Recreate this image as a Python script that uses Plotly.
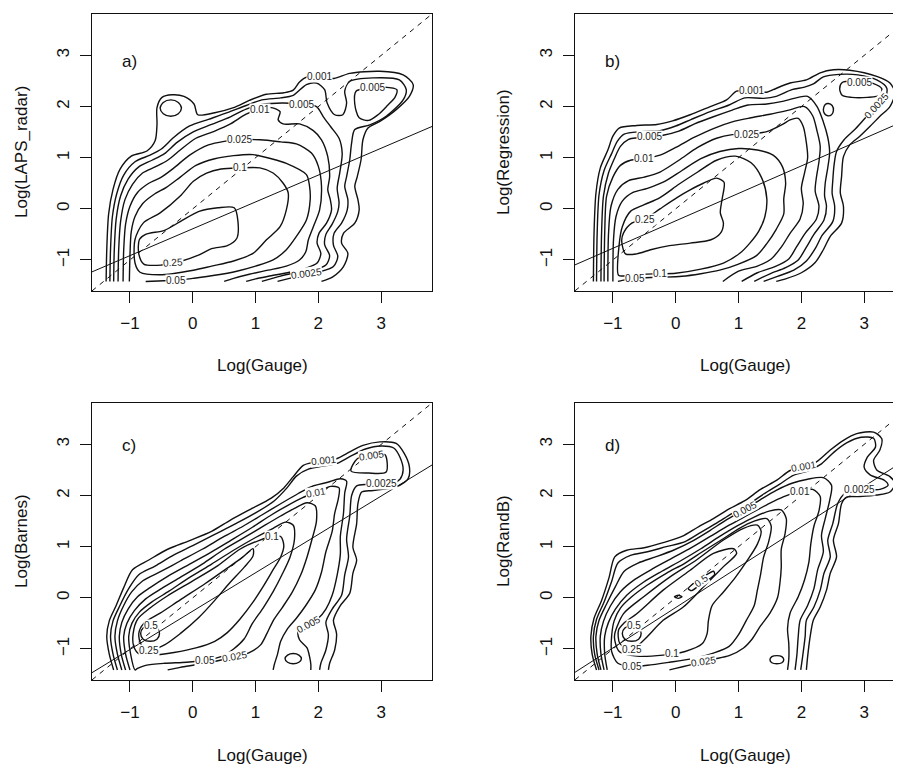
import plotly.graph_objects as go

# ---------------- data ----------------
tick_values = [-1, 0, 1, 2, 3]
x_title = "Log(Gauge)"
y_titles = ["Log(LAPS_radar)", "Log(Regression)", "Log(Barnes)", "Log(RandB)"]
panel_tags = ["a)", "b)", "c)", "d)"]

# regression lines: (intercept, slope)
fit_a = (-0.39, 0.525)
fit_b = (-0.235, 0.537)
fit_c = (-0.26, 0.75)
fit_d = (-0.19, 0.79)

# contour paths (level, [[x, y], ...]) in log units
a_contours = [
    ("0.001", [[-1.38,-1.42],[-1.37,-0.80],[-1.34,-0.10],[-1.27,0.38],[-1.16,0.77],[-0.98,1.03],[-0.73,1.13],[-0.60,1.33],[-0.57,1.65],[-0.57,1.98],[-0.49,2.18],[-0.33,2.23],[-0.14,2.20],[0.02,2.05],[0.08,1.84],[0.35,1.88],[0.65,1.98],[0.90,2.12],[1.17,2.24],[1.45,2.27],[1.60,2.32],[1.70,2.48],[1.82,2.58],[2.02,2.58],[2.25,2.55],[2.50,2.65],[2.98,2.69],[3.35,2.62],[3.51,2.43],[3.45,2.20],[3.24,1.94],[2.98,1.71],[2.79,1.58],[2.71,1.35],[2.68,0.96],[2.62,0.63],[2.58,0.44],[2.63,0.18],[2.65,-0.02],[2.58,-0.28],[2.40,-0.48],[2.37,-0.67],[2.47,-0.87],[2.40,-1.13],[2.23,-1.33],[2.05,-1.42]]),
    ("0.0025", [[-1.32,-1.42],[-1.31,-0.80],[-1.28,-0.15],[-1.21,0.30],[-1.10,0.66],[-0.92,0.92],[-0.68,1.05],[-0.50,1.17],[-0.30,1.40],[-0.05,1.62],[0.25,1.75],[0.55,1.88],[0.85,2.02],[1.10,2.13],[1.40,2.17],[1.60,2.22],[1.81,2.43],[1.97,2.46],[2.10,2.33],[2.14,2.07],[2.26,1.84],[2.39,1.84],[2.45,2.07],[2.42,2.30],[2.50,2.49],[2.87,2.56],[3.29,2.52],[3.40,2.33],[3.35,2.13],[3.08,1.81],[2.82,1.64],[2.58,1.55],[2.53,1.29],[2.50,0.96],[2.45,0.63],[2.42,0.44],[2.47,0.18],[2.46,-0.02],[2.37,-0.28],[2.25,-0.48],[2.24,-0.71],[2.31,-0.93],[2.24,-1.13],[2.02,-1.23],[1.81,-1.27],[1.54,-1.36],[1.35,-1.42]]),
    ("0.0025", [[-0.52,1.97],[-0.47,2.08],[-0.35,2.13],[-0.23,2.08],[-0.18,1.97],[-0.23,1.86],[-0.35,1.81],[-0.47,1.86],[-0.52,1.97]]),
    ("0.005", [[-1.26,-1.42],[-1.25,-0.80],[-1.22,-0.20],[-1.15,0.25],[-1.03,0.58],[-0.86,0.82],[-0.65,0.95],[-0.45,1.08],[-0.25,1.30],[0.00,1.50],[0.30,1.65],[0.60,1.80],[0.85,1.95],[1.10,2.04],[1.44,2.07],[1.73,2.04],[1.97,2.00],[2.08,1.80],[2.20,1.60],[2.33,1.38],[2.38,1.08],[2.34,0.70],[2.30,0.40],[2.33,0.12],[2.31,-0.05],[2.22,-0.30],[2.12,-0.50],[2.10,-0.70],[2.18,-0.92],[2.12,-1.10],[1.92,-1.20],[1.60,-1.26],[1.35,-1.33],[1.10,-1.42]]),
    ("0.005", [[2.60,2.30],[2.80,2.36],[3.05,2.38],[3.25,2.33],[3.22,2.18],[3.10,2.02],[2.95,1.84],[2.80,1.73],[2.65,1.78],[2.58,2.05],[2.60,2.30]]),
    ("0.01", [[-1.19,-1.42],[-1.18,-0.80],[-1.15,-0.25],[-1.08,0.18],[-0.96,0.48],[-0.80,0.70],[-0.60,0.82],[-0.40,0.95],[-0.20,1.15],[0.05,1.38],[0.35,1.52],[0.60,1.66],[0.85,1.85],[1.07,1.95],[1.25,1.98],[1.39,1.90],[1.36,1.74],[1.44,1.66],[1.70,1.66],[1.92,1.53],[2.05,1.35],[2.15,1.02],[2.18,0.63],[2.15,0.37],[2.19,0.18],[2.21,-0.02],[2.13,-0.28],[2.01,-0.48],[1.98,-0.67],[2.04,-0.87],[1.98,-1.06],[1.81,-1.16],[1.54,-1.24],[1.25,-1.31],[1.00,-1.37],[0.85,-1.42]]),
    ("0.025", [[-1.11,-1.42],[-1.10,-0.80],[-1.07,-0.30],[-1.00,0.05],[-0.88,0.32],[-0.70,0.50],[-0.50,0.62],[-0.30,0.80],[-0.05,1.05],[0.25,1.25],[0.50,1.32],[0.75,1.35],[1.07,1.35],[1.40,1.31],[1.65,1.27],[1.89,1.09],[2.00,0.83],[2.05,0.44],[2.02,-0.02],[1.92,-0.35],[1.84,-0.61],[1.80,-0.84],[1.70,-1.00],[1.49,-1.12],[1.20,-1.20],[0.90,-1.28],[0.65,-1.36],[0.50,-1.42]]),
    ("0.05", [[-1.01,-1.42],[-1.00,-0.90],[-0.98,-0.45],[-0.92,-0.15],[-0.80,0.10],[-0.62,0.28],[-0.42,0.42],[-0.20,0.62],[0.05,0.85],[0.35,0.98],[0.65,1.04],[0.96,1.06],[1.25,0.98],[1.49,0.89],[1.81,0.67],[1.86,0.44],[1.87,0.18],[1.81,-0.22],[1.65,-0.54],[1.49,-0.80],[1.28,-1.00],[1.00,-1.12],[0.70,-1.22],[0.35,-1.30],[0.00,-1.36],[-0.26,-1.40],[-0.55,-1.41],[-0.75,-1.42]]),
    ("0.1", [[-0.92,-0.60],[-0.79,-0.28],[-0.52,-0.08],[-0.20,0.25],[0.01,0.54],[0.22,0.70],[0.45,0.78],[0.75,0.80],[1.07,0.80],[1.28,0.70],[1.44,0.50],[1.52,0.31],[1.49,-0.02],[1.39,-0.35],[1.17,-0.61],[0.96,-0.87],[0.65,-1.02],[0.30,-1.12],[0.01,-1.20],[-0.52,-1.29],[-0.84,-1.24],[-0.92,-1.06],[-0.92,-0.60]]),
    ("0.25", [[-0.85,-0.60],[-0.75,-0.50],[-0.45,-0.42],[-0.20,-0.25],[0.10,-0.05],[0.40,0.02],[0.66,0.02],[0.72,-0.25],[0.70,-0.58],[0.55,-0.72],[0.30,-0.78],[0.10,-0.90],[-0.20,-1.03],[-0.50,-1.10],[-0.78,-1.08],[-0.86,-0.88],[-0.85,-0.60]]),
]
a_labels = [("0.001", 2.02, 2.58, 0), ("0.005", 1.73, 2.04, 0), ("0.005", 2.86, 2.37, 0),
            ("0.01", 1.07, 1.95, 0), ("0.025", 0.75, 1.35, 0), ("0.1", 0.75, 0.80, 0),
            ("0.25", -0.32, -1.05, -4), ("0.05", -0.26, -1.40, 0), ("0.0025", 1.81, -1.27, -8)]

b_contours = [
    ("0.001", [[-1.31,-1.42],[-1.30,-0.47],[-1.27,0.30],[-1.20,0.80],[-1.08,1.15],[-1.00,1.42],[-0.90,1.58],[-0.62,1.63],[-0.30,1.65],[-0.05,1.72],[0.23,1.84],[0.55,2.00],[0.81,2.13],[0.97,2.30],[1.21,2.31],[1.45,2.28],[1.55,2.33],[1.82,2.46],[2.08,2.52],[2.30,2.66],[2.51,2.72],[2.77,2.71],[3.20,2.59],[3.41,2.46],[3.49,2.27],[3.41,2.00],[3.25,1.81],[3.09,1.61],[2.93,1.42],[2.77,1.25],[2.67,1.02],[2.64,0.63],[2.62,0.31],[2.67,0.05],[2.64,-0.28],[2.46,-0.54],[2.35,-0.80],[2.22,-1.05],[2.00,-1.25],[1.75,-1.37],[1.60,-1.42]]),
    ("0.0025", [[-1.26,-1.42],[-1.25,-0.47],[-1.22,0.28],[-1.14,0.75],[-1.02,1.08],[-0.93,1.32],[-0.82,1.46],[-0.55,1.51],[-0.25,1.53],[0.00,1.62],[0.25,1.75],[0.55,1.90],[0.85,2.03],[1.10,2.17],[1.40,2.16],[1.60,2.20],[1.85,2.33],[2.05,2.38],[2.20,2.45],[2.35,2.58],[2.60,2.63],[2.90,2.62],[3.20,2.52],[3.36,2.36],[3.33,2.15],[3.18,1.98],[3.02,1.78],[2.85,1.55],[2.68,1.35],[2.56,1.12],[2.52,0.85],[2.50,0.55],[2.49,0.30],[2.53,0.05],[2.50,-0.25],[2.33,-0.52],[2.22,-0.78],[2.08,-1.02],[1.88,-1.20],[1.62,-1.32],[1.40,-1.42]]),
    ("0.005", [[-1.19,-1.42],[-1.18,-0.47],[-1.15,0.25],[-1.07,0.70],[-0.97,1.00],[-0.88,1.22],[-0.75,1.36],[-0.60,1.39],[-0.41,1.41],[-0.20,1.44],[0.05,1.52],[0.30,1.66],[0.60,1.80],[0.90,1.93],[1.15,2.03],[1.45,2.05],[1.70,2.10],[1.95,2.18],[2.10,2.20],[2.25,2.00],[2.35,1.70],[2.42,1.40],[2.45,1.10],[2.42,0.80],[2.38,0.50],[2.37,0.25],[2.40,0.05],[2.36,-0.22],[2.20,-0.50],[2.08,-0.75],[1.95,-1.00],[1.75,-1.15],[1.50,-1.27],[1.25,-1.42]]),
    ("0.005", [[2.61,2.35],[2.65,2.47],[2.93,2.49],[3.15,2.45],[3.28,2.35],[3.25,2.22],[3.05,2.18],[2.80,2.18],[2.65,2.22],[2.61,2.35]]),
    ("0.01", [[2.35,1.94],[2.38,2.04],[2.43,2.06],[2.49,2.02],[2.51,1.92],[2.48,1.84],[2.42,1.82],[2.37,1.86],[2.35,1.94]]),
    ("0.01", [[-1.14,-1.42],[-1.13,-0.47],[-1.10,0.25],[-1.00,0.62],[-0.88,0.85],[-0.72,0.95],[-0.51,0.98],[-0.25,1.05],[0.00,1.20],[0.30,1.40],[0.60,1.57],[0.90,1.70],[1.20,1.78],[1.50,1.85],[1.80,1.93],[2.05,2.00],[2.18,1.82],[2.25,1.52],[2.30,1.22],[2.28,0.92],[2.24,0.62],[2.22,0.35],[2.28,0.05],[2.24,-0.20],[2.06,-0.48],[1.92,-0.75],[1.80,-0.98],[1.58,-1.13],[1.30,-1.25],[1.05,-1.42]]),
    ("0.025", [[-1.08,-1.42],[-1.07,-0.50],[-1.03,0.05],[-0.92,0.38],[-0.75,0.55],[-0.50,0.62],[-0.25,0.72],[0.05,0.95],[0.35,1.20],[0.65,1.38],[0.90,1.45],[1.13,1.46],[1.45,1.51],[1.70,1.65],[1.82,1.74],[1.95,1.77],[2.03,1.61],[2.08,1.29],[2.10,1.00],[2.05,0.70],[2.00,0.40],[2.03,0.10],[1.98,-0.20],[1.82,-0.48],[1.68,-0.75],[1.52,-0.98],[1.30,-1.12],[1.00,-1.22],[0.75,-1.42]]),
    ("0.05", [[-1.00,-1.42],[-0.99,-0.60],[-0.95,-0.15],[-0.85,0.15],[-0.68,0.32],[-0.45,0.40],[-0.20,0.52],[0.10,0.75],[0.40,0.98],[0.70,1.12],[1.00,1.18],[1.30,1.15],[1.55,1.05],[1.70,0.82],[1.75,0.50],[1.72,0.20],[1.72,-0.10],[1.60,-0.40],[1.45,-0.68],[1.28,-0.92],[1.00,-1.08],[0.70,-1.20],[0.40,-1.27],[0.10,-1.32],[-0.30,-1.34],[-0.65,-1.36],[-0.85,-1.40],[-0.92,-1.42]]),
    ("0.1", [[-0.91,-1.30],[-0.90,-0.70],[-0.85,-0.35],[-0.72,-0.05],[-0.50,0.08],[-0.25,0.22],[0.05,0.48],[0.35,0.72],[0.65,0.95],[0.95,1.03],[1.20,0.90],[1.37,0.60],[1.45,0.20],[1.42,-0.15],[1.32,-0.44],[1.18,-0.67],[1.02,-0.87],[0.76,-1.06],[0.40,-1.18],[0.00,-1.26],[-0.25,-1.27],[-0.55,-1.28],[-0.80,-1.31],[-0.91,-1.30]]),
    ("0.25", [[-0.86,-0.62],[-0.83,-0.47],[-0.70,-0.28],[-0.49,-0.20],[-0.25,0.00],[0.02,0.22],[0.23,0.37],[0.44,0.50],[0.65,0.60],[0.77,0.52],[0.74,0.20],[0.71,-0.08],[0.76,-0.28],[0.71,-0.48],[0.55,-0.61],[0.23,-0.67],[-0.10,-0.72],[-0.40,-0.80],[-0.62,-0.88],[-0.80,-0.88],[-0.86,-0.62]]),
]
b_labels = [("0.001", 1.21, 2.31, 0), ("0.005", -0.41, 1.41, 0), ("0.01", -0.51, 0.98, 0),
            ("0.025", 1.13, 1.46, 0), ("0.25", -0.49, -0.20, 0), ("0.1", -0.25, -1.27, 0),
            ("0.05", -0.65, -1.36, 0), ("0.005", 2.93, 2.48, 0), ("0.0025", 3.20, 2.02, -48)]

c_contours = [
    ("0.001", [[-1.26,-1.41],[-1.33,-1.10],[-1.37,-0.75],[-1.33,-0.45],[-1.22,-0.15],[-1.10,0.20],[-0.96,0.55],[-0.70,0.74],[-0.40,0.95],[-0.05,1.12],[0.30,1.30],[0.60,1.52],[0.90,1.72],[1.25,1.95],[1.45,2.15],[1.60,2.37],[1.76,2.59],[1.92,2.65],[2.08,2.68],[2.29,2.72],[2.45,2.82],[2.71,2.98],[2.98,3.05],[3.24,3.02],[3.37,2.82],[3.45,2.56],[3.43,2.33],[3.24,2.17],[2.87,2.10],[2.69,2.07],[2.63,1.84],[2.61,1.45],[2.55,0.99],[2.61,0.74],[2.55,0.48],[2.50,0.09],[2.34,-0.17],[2.24,-0.44],[2.29,-0.70],[2.26,-1.02],[2.18,-1.28],[2.16,-1.41]]),
    ("0.0025", [[-1.20,-1.41],[-1.27,-1.10],[-1.31,-0.75],[-1.27,-0.45],[-1.16,-0.15],[-1.03,0.16],[-0.86,0.45],[-0.60,0.62],[-0.30,0.84],[0.00,1.02],[0.35,1.24],[0.70,1.46],[1.00,1.66],[1.30,1.90],[1.50,2.15],[1.65,2.38],[1.85,2.52],[2.05,2.57],[2.30,2.63],[2.50,2.76],[2.75,2.91],[3.00,2.97],[3.20,2.93],[3.30,2.75],[3.35,2.50],[3.30,2.32],[3.20,2.25],[3.00,2.24],[2.80,2.22],[2.61,2.19],[2.53,2.00],[2.50,1.60],[2.45,1.15],[2.48,0.80],[2.42,0.45],[2.37,0.05],[2.22,-0.22],[2.12,-0.48],[2.16,-0.72],[2.12,-1.02],[2.04,-1.28],[2.02,-1.41]]),
    ("0.005", [[-1.13,-1.41],[-1.20,-1.10],[-1.24,-0.75],[-1.20,-0.45],[-1.10,-0.15],[-0.97,0.12],[-0.80,0.33],[-0.50,0.52],[-0.20,0.72],[0.15,0.95],[0.50,1.20],[0.80,1.40],[1.10,1.62],[1.40,1.84],[1.68,2.04],[1.90,2.18],[2.15,2.26],[2.35,2.33],[2.45,2.28],[2.42,2.05],[2.40,1.65],[2.35,1.20],[2.35,0.85],[2.30,0.45],[2.22,0.05],[2.12,-0.22],[2.00,-0.40],[1.84,-0.53],[1.68,-0.66],[1.70,-0.82],[1.82,-0.98],[1.86,-1.15],[1.88,-1.30],[1.88,-1.41]]),
    ("0.005", [[2.52,2.48],[2.62,2.72],[2.85,2.78],[3.06,2.80],[3.08,2.46],[2.80,2.44],[2.52,2.48]]),
    ("0.01", [[-1.07,-1.41],[-1.14,-1.10],[-1.17,-0.75],[-1.13,-0.48],[-1.03,-0.22],[-0.88,0.02],[-0.68,0.20],[-0.40,0.42],[-0.05,0.66],[0.30,0.90],[0.60,1.12],[0.95,1.38],[1.25,1.62],[1.50,1.80],[1.75,1.96],[1.97,2.06],[2.20,2.18],[2.33,2.15],[2.32,1.95],[2.26,1.65],[2.22,1.30],[2.12,0.90],[2.05,0.50],[1.95,0.15],[1.80,-0.15],[1.65,-0.40],[1.50,-0.62],[1.40,-0.85],[1.35,-1.10],[1.30,-1.30],[1.28,-1.41]]),
    ("0.01", [[1.47,-1.19],[1.51,-1.12],[1.60,-1.09],[1.69,-1.12],[1.73,-1.19],[1.69,-1.26],[1.60,-1.29],[1.51,-1.26],[1.47,-1.19]]),
    ("0.025", [[-1.00,-1.41],[-1.07,-1.10],[-1.10,-0.75],[-1.05,-0.50],[-0.93,-0.25],[-0.75,-0.02],[-0.50,0.18],[-0.20,0.40],[0.15,0.66],[0.50,0.95],[0.85,1.20],[1.15,1.42],[1.40,1.60],[1.62,1.75],[1.82,1.86],[1.95,1.80],[1.97,1.50],[1.90,1.15],[1.82,0.80],[1.72,0.45],[1.58,0.10],[1.42,-0.20],[1.28,-0.45],[1.18,-0.70],[1.08,-0.92],[0.90,-1.07],[0.67,-1.15],[0.40,-1.23],[0.10,-1.30],[-0.20,-1.36],[-0.40,-1.41]]),
    ("0.05", [[-0.92,-1.41],[-0.99,-1.10],[-1.02,-0.75],[-0.97,-0.50],[-0.85,-0.28],[-0.65,-0.08],[-0.38,0.13],[-0.05,0.40],[0.30,0.66],[0.65,0.93],[1.00,1.18],[1.28,1.36],[1.48,1.48],[1.60,1.42],[1.62,1.15],[1.55,0.80],[1.42,0.45],[1.28,0.12],[1.12,-0.20],[0.95,-0.50],[0.82,-0.80],[0.65,-1.00],[0.45,-1.15],[0.20,-1.22],[-0.10,-1.26],[-0.45,-1.28],[-0.75,-1.32],[-0.88,-1.38],[-0.92,-1.41]]),
    ("0.1", [[-0.94,-0.95],[-0.95,-0.70],[-0.88,-0.42],[-0.68,-0.20],[-0.40,0.04],[0.00,0.33],[0.40,0.63],[0.75,0.95],[1.05,1.12],[1.26,1.20],[1.40,1.20],[1.45,1.02],[1.40,0.80],[1.28,0.55],[1.12,0.22],[0.95,-0.10],[0.75,-0.42],[0.55,-0.68],[0.35,-0.85],[0.05,-0.98],[-0.30,-1.07],[-0.60,-1.12],[-0.85,-1.10],[-0.94,-0.95]]),
    ("0.25", [[-0.86,-0.70],[-0.78,-0.50],[-0.52,-0.30],[-0.20,-0.04],[0.20,0.28],[0.55,0.58],[0.80,0.80],[0.96,0.96],[0.96,0.82],[0.82,0.60],[0.58,0.28],[0.35,-0.05],[0.10,-0.38],[-0.20,-0.70],[-0.45,-0.92],[-0.68,-1.02],[-0.82,-0.92],[-0.86,-0.70]]),
    ("0.5", [[-0.83,-0.70],[-0.79,-0.59],[-0.68,-0.55],[-0.57,-0.59],[-0.53,-0.70],[-0.57,-0.81],[-0.68,-0.85],[-0.79,-0.81],[-0.83,-0.70]]),
]
c_labels = [("0.001", 2.08, 2.68, -6), ("0.005", 2.85, 2.78, -8), ("0.0025", 3.00, 2.24, 0),
            ("0.01", 1.97, 2.06, -10), ("0.1", 1.26, 1.20, 0), ("0.005", 1.84, -0.53, -28),
            ("0.05", 0.20, -1.22, 0), ("0.025", 0.67, -1.15, -10), ("0.25", -0.70, -1.03, 0),
            ("0.5", -0.66, -0.55, 0)]

d_contours = [
    ("0.001", [[-1.26,-1.41],[-1.33,-1.10],[-1.35,-0.75],[-1.30,-0.40],[-1.18,-0.05],[-1.06,0.40],[-0.97,0.80],[-0.78,0.93],[-0.50,0.98],[-0.20,1.08],[0.10,1.20],[0.35,1.38],[0.60,1.55],[0.85,1.74],[1.10,1.90],[1.35,2.12],[1.61,2.30],[1.82,2.49],[2.03,2.56],[2.24,2.66],[2.46,2.89],[2.67,3.08],[2.88,3.21],[3.15,3.24],[3.28,3.11],[3.25,2.89],[3.15,2.69],[3.20,2.50],[3.41,2.37],[3.49,2.23],[3.41,2.07],[3.20,2.01],[2.90,1.98],[2.72,1.97],[2.64,1.84],[2.59,1.45],[2.51,1.13],[2.56,0.80],[2.46,0.48],[2.40,0.15],[2.30,-0.18],[2.19,-0.44],[2.14,-0.76],[2.10,-1.15],[2.08,-1.41]]),
    ("0.0025", [[-1.22,-1.41],[-1.29,-1.10],[-1.31,-0.75],[-1.26,-0.42],[-1.14,-0.08],[-1.02,0.32],[-0.92,0.68],[-0.72,0.83],[-0.45,0.90],[-0.15,1.00],[0.15,1.10],[0.40,1.28],[0.65,1.46],[0.90,1.65],[1.15,1.82],[1.40,2.03],[1.65,2.22],[1.88,2.40],[2.10,2.48],[2.32,2.62],[2.52,2.85],[2.72,3.03],[2.95,3.14],[3.15,3.12],[3.18,2.95],[3.05,2.75],[3.00,2.55],[3.10,2.40],[3.32,2.30],[3.38,2.20],[3.25,2.12],[2.93,2.12],[2.70,2.05],[2.58,1.85],[2.50,1.45],[2.42,1.12],[2.46,0.80],[2.36,0.48],[2.30,0.15],[2.20,-0.18],[2.08,-0.44],[2.06,-0.76],[2.02,-1.15],[1.99,-1.41]]),
    ("0.005", [[-1.19,-1.41],[-1.25,-1.10],[-1.27,-0.75],[-1.22,-0.44],[-1.10,-0.12],[-0.96,0.22],[-0.82,0.52],[-0.60,0.68],[-0.32,0.80],[-0.02,0.94],[0.28,1.12],[0.55,1.32],[0.80,1.52],[1.10,1.73],[1.35,1.92],[1.60,2.10],[1.85,2.24],[2.10,2.32],[2.35,2.35],[2.48,2.20],[2.45,1.90],[2.38,1.55],[2.32,1.22],[2.35,0.90],[2.26,0.55],[2.20,0.18],[2.10,-0.15],[1.98,-0.44],[1.95,-0.76],[1.93,-1.10],[1.90,-1.41]]),
    ("0.01", [[-1.14,-1.41],[-1.19,-1.10],[-1.20,-0.75],[-1.15,-0.46],[-1.04,-0.16],[-0.88,0.12],[-0.65,0.36],[-0.35,0.58],[-0.05,0.78],[0.25,0.98],[0.55,1.20],[0.85,1.42],[1.15,1.62],[1.45,1.82],[1.72,1.98],[1.98,2.08],[2.18,2.12],[2.30,1.98],[2.28,1.70],[2.20,1.40],[2.15,1.05],[2.12,0.70],[2.05,0.35],[1.95,0.02],[1.82,-0.30],[1.78,-0.60],[1.80,-0.90],[1.80,-1.20],[1.78,-1.41]]),
    ("0.01", [[1.50,-1.21],[1.53,-1.15],[1.61,-1.13],[1.69,-1.15],[1.72,-1.21],[1.69,-1.27],[1.61,-1.29],[1.53,-1.27],[1.50,-1.21]]),
    ("0.025", [[-1.09,-1.41],[-1.13,-1.10],[-1.13,-0.75],[-1.07,-0.48],[-0.96,-0.22],[-0.78,0.05],[-0.52,0.30],[-0.22,0.52],[0.10,0.74],[0.40,0.96],[0.70,1.20],[1.00,1.42],[1.25,1.58],[1.50,1.70],[1.68,1.72],[1.76,1.55],[1.74,1.25],[1.68,0.95],[1.68,0.60],[1.66,0.30],[1.62,0.00],[1.50,-0.30],[1.35,-0.55],[1.22,-0.80],[1.08,-0.98],[0.85,-1.13],[0.60,-1.20],[0.44,-1.25],[0.20,-1.32],[0.00,-1.38],[-0.10,-1.41]]),
    ("0.05", [[-1.02,-0.75],[-0.98,-0.45],[-0.88,-0.20],[-0.70,0.02],[-0.45,0.25],[-0.15,0.48],[0.15,0.68],[0.45,0.92],[0.75,1.15],[1.00,1.35],[1.25,1.50],[1.45,1.55],[1.52,1.40],[1.48,1.10],[1.40,0.80],[1.35,0.45],[1.30,0.15],[1.25,-0.15],[1.12,-0.45],[1.00,-0.72],[0.85,-0.95],[0.60,-1.08],[0.30,-1.18],[-0.10,-1.26],[-0.45,-1.32],[-0.70,-1.34],[-0.92,-1.28],[-1.02,-1.05],[-1.02,-0.75]]),
    ("0.1", [[-0.97,-0.70],[-0.83,-0.31],[-0.51,0.02],[-0.09,0.41],[0.33,0.74],[0.76,1.13],[1.08,1.36],[1.30,1.42],[1.36,1.30],[1.30,1.05],[1.15,0.75],[0.95,0.40],[0.75,0.10],[0.58,-0.15],[0.52,-0.45],[0.50,-0.70],[0.42,-0.90],[0.15,-1.05],[-0.20,-1.12],[-0.62,-1.14],[-0.89,-1.06],[-0.97,-0.83],[-0.97,-0.70]]),
    ("0.25", [[-0.91,-0.63],[-0.83,-0.50],[-0.62,-0.31],[-0.20,0.15],[0.23,0.54],[0.60,0.87],[0.92,0.96],[0.97,0.87],[0.76,0.61],[0.44,0.21],[0.12,-0.18],[-0.20,-0.44],[-0.51,-0.83],[-0.70,-1.01],[-0.89,-0.89],[-0.91,-0.63]]),
    ("0.5", [[0.20,0.18],[0.30,0.30],[0.45,0.42],[0.60,0.52],[0.62,0.46],[0.50,0.34],[0.35,0.22],[0.25,0.14],[0.20,0.18]]),
    ("0.5", [[-0.02,0.02],[0.04,0.05],[0.10,0.02],[0.04,-0.01],[-0.02,0.02]]),
    ("0.5", [[-0.85,-0.70],[-0.81,-0.59],[-0.70,-0.55],[-0.59,-0.59],[-0.55,-0.70],[-0.59,-0.81],[-0.70,-0.85],[-0.81,-0.81],[-0.85,-0.70]]),
]
d_labels = [("0.001", 2.03, 2.56, -10), ("0.01", 1.98, 2.08, 0), ("0.005", 1.10, 1.73, -28),
            ("0.0025", 2.93, 2.12, 0), ("0.5", 0.41, 0.34, -35), ("0.5", -0.67, -0.55, 0),
            ("0.25", -0.70, -1.01, 0), ("0.1", -0.06, -1.09, 0), ("0.05", -0.70, -1.34, 0),
            ("0.025", 0.44, -1.25, -8)]

# ---------------- layout / styling ----------------
PAGE_W, PAGE_H = 901, 764
OFF = 8                      # browser body margin around the plot div
W, H = PAGE_W - OFF, PAGE_H - OFF
FONT = "Liberation Sans, Arial, Helvetica, sans-serif"
INK = "#111111"


def px_x(v):
    return (v - OFF) / W


def px_y(v):
    return 1 - (v - OFF) / H


panels = [
    dict(contours=a_contours, labels=a_labels, fit=fit_a, box=(92, 432, 14, 291), xr=[-1.605, 3.81],
         ytitle_px=(21, 152), xtitle_px=(262, 366), tag_px=(129, 62)),
    dict(contours=b_contours, labels=b_labels, fit=fit_b, box=(575, 901, 14, 291), xr=[-1.603, 3.586],
         ytitle_px=(503, 152), xtitle_px=(745, 366), tag_px=(612, 62)),
    dict(contours=c_contours, labels=c_labels, fit=fit_c, box=(92, 432, 403, 680), xr=[-1.605, 3.81],
         ytitle_px=(21, 541), xtitle_px=(262, 755), tag_px=(129, 445)),
    dict(contours=d_contours, labels=d_labels, fit=fit_d, box=(575, 901, 403, 680), xr=[-1.603, 3.586],
         ytitle_px=(503, 541), xtitle_px=(745, 755), tag_px=(612, 445)),
]
full_box = [True, False, True, False]
yr = [-1.607, 3.81]

fig = go.Figure()
layout_axes = {}
annotations = []

for i, p in enumerate(panels):
    n = "" if i == 0 else str(i + 1)
    xa, ya = "x" + n, "y" + n
    left, right, top, bottom = p["box"]

    for level, pts in p["contours"]:
        fig.add_trace(go.Scatter(
            x=[q[0] for q in pts], y=[q[1] for q in pts], mode="lines",
            line=dict(color=INK, width=1.4, shape="spline", smoothing=0.8),
            xaxis=xa, yaxis=ya, hoverinfo="skip", showlegend=False, name=level))

    xs = p["xr"]
    b0, b1 = p["fit"]
    fig.add_trace(go.Scatter(x=xs, y=xs, mode="lines",
                             line=dict(color=INK, width=1, dash="5px,5px"),
                             xaxis=xa, yaxis=ya, hoverinfo="skip", showlegend=False))
    fig.add_trace(go.Scatter(x=xs, y=[b0 + b1 * v for v in xs], mode="lines",
                             line=dict(color=INK, width=1),
                             xaxis=xa, yaxis=ya, hoverinfo="skip", showlegend=False))

    common = dict(showgrid=False, zeroline=False, ticks="outside", ticklen=11, tickwidth=1,
                  tickcolor=INK, showline=True, linecolor=INK, linewidth=1,
                  tickvals=tick_values, tickfont=dict(family=FONT, size=17, color=INK),
                  fixedrange=True)
    layout_axes["xaxis" + n] = dict(common, domain=[px_x(left), min(1.0, px_x(right))], range=xs,
                                    anchor=ya, mirror=True, ticklabelstandoff=6)
    layout_axes["yaxis" + n] = dict(common, domain=[px_y(bottom), px_y(top)], range=yr,
                                    anchor=xa, mirror=full_box[i], tickangle=-90,
                                    ticklabelstandoff=4)

    for text, lx, ly, ang in p["labels"]:
        annotations.append(dict(x=lx, y=ly, xref=xa, yref=ya, text=text, showarrow=False,
                                textangle=ang, font=dict(family=FONT, size=10, color="#222222"),
                                bgcolor="white", borderpad=0))

    tx, ty = p["xtitle_px"]
    annotations.append(dict(x=px_x(tx), y=px_y(ty), xref="paper", yref="paper", text=x_title,
                            showarrow=False, xanchor="center", yanchor="middle",
                            font=dict(family=FONT, size=17, color=INK)))
    vx, vy = p["ytitle_px"]
    annotations.append(dict(x=px_x(vx), y=px_y(vy), xref="paper", yref="paper", text=y_titles[i],
                            showarrow=False, xanchor="center", yanchor="middle", textangle=-90,
                            font=dict(family=FONT, size=17, color=INK)))
    gx, gy = p["tag_px"]
    annotations.append(dict(x=px_x(gx), y=px_y(gy), xref="paper", yref="paper", text=panel_tags[i],
                            showarrow=False, xanchor="center", yanchor="middle",
                            font=dict(family=FONT, size=17, color=INK)))

fig.update_layout(width=W, height=H, margin=dict(l=0, r=0, t=0, b=0),
                  paper_bgcolor="white", plot_bgcolor="white", showlegend=False,
                  annotations=annotations, **layout_axes)

fig.write_html("out.html")
